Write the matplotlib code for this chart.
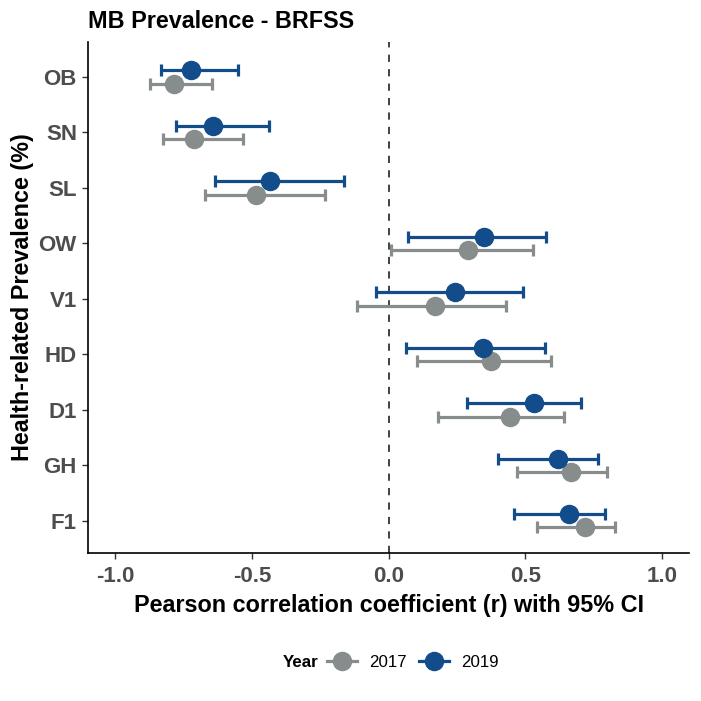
import numpy as np
import matplotlib.pyplot as plt
from matplotlib.lines import Line2D

categories = ['OB', 'SN', 'SL', 'OW', 'V1', 'HD', 'D1', 'GH', 'F1']

r_2017 = [-0.785, -0.712, -0.485, 0.292, 0.171, 0.376, 0.444, 0.667, 0.719]
lo_2017 = [-0.872, -0.825, -0.672, 0.010, -0.117, 0.105, 0.181, 0.470, 0.544]
hi_2017 = [-0.646, -0.533, -0.234, 0.530, 0.431, 0.594, 0.642, 0.798, 0.829]

r_2019 = [-0.723, -0.642, -0.434, 0.351, 0.243, 0.346, 0.534, 0.619, 0.660]
lo_2019 = [-0.832, -0.777, -0.635, 0.070, -0.046, 0.065, 0.289, 0.400, 0.459]
hi_2019 = [-0.551, -0.438, -0.164, 0.576, 0.492, 0.572, 0.706, 0.768, 0.794]

years = ['2017', '2019']
colors = {'2017': '#878d8d', '2019': '#124c8a'}

plt.rcParams['font.family'] = ['Liberation Sans', 'DejaVu Sans']

fig = plt.figure(figsize=(7.01, 7.01), dpi=100)
ax = fig.add_axes([0.1255, 0.2111, 0.8575, 0.729])

ypos = np.arange(len(categories))[::-1]
offsets = {'2017': -0.12, '2019': 0.12}
series = {'2017': (r_2017, lo_2017, hi_2017), '2019': (r_2019, lo_2019, hi_2019)}

for yr in years:
    r, lo, hi = (np.array(a) for a in series[yr])
    ax.errorbar(r, ypos + offsets[yr], xerr=[r - lo, hi - r], fmt='o',
                color=colors[yr], ecolor=colors[yr], elinewidth=2.3,
                capsize=4.5, capthick=2.3, markersize=13, zorder=3)

ax.axvline(0, color='#333333', linestyle=(0, (4, 4)), linewidth=1.3, zorder=1)

ax.set_xlim(-1.1, 1.1)
ax.set_ylim(-0.58, len(categories) - 1 + 0.63)
ax.set_xticks([-1.0, -0.5, 0.0, 0.5, 1.0])
ax.set_xticklabels(['-1.0', '-0.5', '0.0', '0.5', '1.0'])
ax.set_yticks(ypos)
ax.set_yticklabels(categories)
for lab in ax.get_xticklabels() + ax.get_yticklabels():
    lab.set_fontweight('bold')
    lab.set_fontsize(16)
    lab.set_color('#4d4d4d')
ax.tick_params(length=4.5, width=1, color='#333333')
ax.tick_params(axis='x', pad=5)

for s in ['top', 'right']:
    ax.spines[s].set_visible(False)
for s in ['left', 'bottom']:
    ax.spines[s].set_linewidth(1.2)

ax.set_xlabel('Pearson correlation coefficient (r) with 95% CI',
              fontsize=16.8, fontweight='bold', labelpad=5)
ax.set_ylabel('Health-related Prevalence (%)', fontsize=16.8, fontweight='bold', labelpad=3)
fig.text(0.1255, 0.970, 'MB Prevalence - BRFSS', fontsize=16.8, fontweight='bold',
         ha='left', va='center')

# legend at bottom: bold "Year" then the two entries
fig.text(0.455, 0.055, 'Year', fontsize=12.2, fontweight='bold', ha='right', va='center')
handles = [Line2D([0], [0], color=colors[yr], marker='o', markersize=13, linewidth=2.3)
           for yr in years]
fig.legend(handles, years, loc='center left', bbox_to_anchor=(0.466, 0.055), ncol=2,
           frameon=False, fontsize=12.2, handlelength=1.8,
           columnspacing=0.7, handletextpad=0.7, borderpad=0, borderaxespad=0)

fig.savefig('out.png', dpi=100)
